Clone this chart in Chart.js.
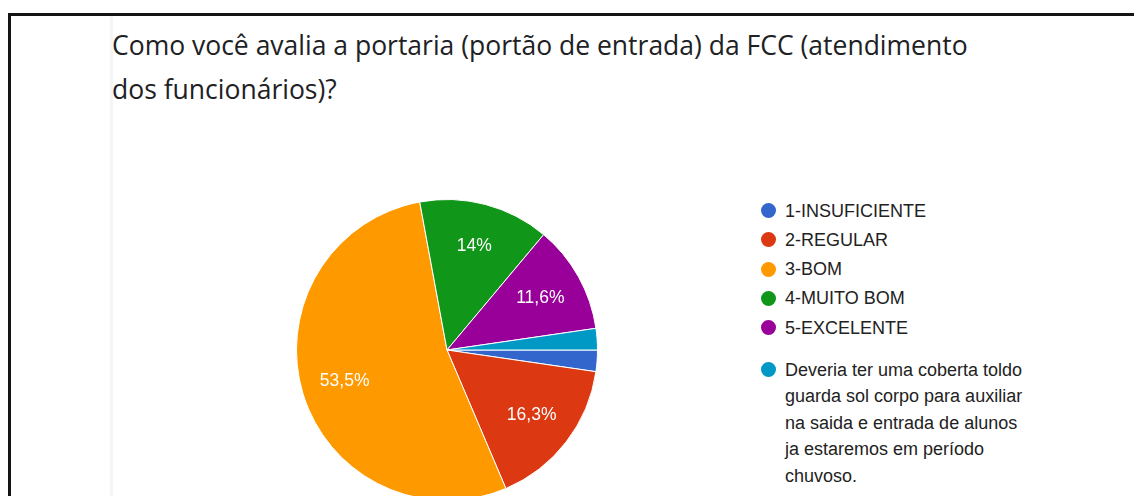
<!DOCTYPE html>
<html lang="pt-BR">
<head>
<meta charset="utf-8">
<title>Portaria FCC</title>
<script src="https://cdn.jsdelivr.net/npm/chart.js@4.4.1/dist/chart.umd.min.js"></script>
<style>
  html, body { margin: 0; padding: 0; width: 1134px; height: 496px; overflow: hidden; background: #fff; }
  #frame { position: absolute; left: 8px; top: 13px; width: 1200px; height: 600px;
           border-left: 3px solid #141414; border-top: 3px solid #141414; }
  #rule { position: absolute; left: 110px; top: 16px; width: 3px; height: 480px; background: #f5f5f5; }
  #title { position: absolute; left: 112px; top: 23px; width: 1000px; margin: 0;
           font-family: "Open Sans", sans-serif; font-weight: 400; font-size: 26.5px;
           line-height: 44px; color: #202124; white-space: nowrap; }
  #pieBox { position: absolute; left: 296px; top: 199px; width: 302px; height: 302px; }
  #legend { position: absolute; left: 760px; top: 0; margin: 0; padding: 0; list-style: none;
            font-family: "Liberation Sans", Arial, sans-serif; font-size: 18px; color: #222; }
  #legend li { position: absolute; left: 0; padding-left: 25px; line-height: 26.5px; white-space: nowrap; }
  #legend .dot { position: absolute; left: 1px; top: 5.5px; width: 15px; height: 15px; border-radius: 50%; }
</style>
</head>
<body>
<div id="frame"></div>
<div id="rule"></div>
<h1 id="title"></h1>
<div id="pieBox"><canvas id="pie" width="302" height="302"></canvas></div>
<ul id="legend"></ul>

<script>
// Question and answer options
const questionLines = [
  'Como você avalia a portaria (portão de entrada) da FCC (atendimento',
  'dos funcionários)?'
];
const categories = [
  '1-INSUFICIENTE',
  '2-REGULAR',
  '3-BOM',
  '4-MUITO BOM',
  '5-EXCELENTE',
  ['Deveria ter uma coberta toldo', 'guarda sol corpo para auxiliar',
   'na saida e entrada de alunos', 'ja estaremos em período', 'chuvoso.']
];
// Share of responses (%) per option
const percentages = [2.3, 16.3, 53.5, 14.0, 11.6, 2.3];
const sliceColors = ['#3366cc', '#dc3912', '#ff9900', '#109618', '#990099', '#0099c6'];
// Slices below this share carry no inside label
const labelThreshold = 5;

// Title
document.getElementById('title').innerHTML =
  questionLines.map(t => t.replace(/&/g, '&amp;').replace(/</g, '&lt;')).join('<br>');

// Legend: single-line entries sit 29.3px apart, a wrapped entry gets extra room above
const legendEl = document.getElementById('legend');
let legendY = 197.5;
categories.forEach((cat, i) => {
  const lines = Array.isArray(cat) ? cat : [cat];
  if (lines.length > 1) legendY += 12.5;
  const li = document.createElement('li');
  li.style.top = legendY + 'px';
  const dot = document.createElement('span');
  dot.className = 'dot';
  dot.style.background = sliceColors[i];
  li.appendChild(dot);
  lines.forEach((line, k) => {
    if (k > 0) li.appendChild(document.createElement('br'));
    li.appendChild(document.createTextNode(line));
  });
  legendEl.appendChild(li);
  legendY += 29.3;
});

const fmtPct = v => {
  const s = (Math.round(v * 10) / 10).toFixed(1).replace(/\.0$/, '');
  return s.replace('.', ',') + '%';
};

// Percent labels placed inside each slice, toward the rim
const sliceLabels = {
  id: 'sliceLabels',
  afterDatasetsDraw(chart) {
    const ctx = chart.ctx;
    const meta = chart.getDatasetMeta(0);
    const values = chart.data.datasets[0].data;
    ctx.save();
    ctx.font = '17.5px "Liberation Sans", Arial, sans-serif';
    ctx.fillStyle = '#fdfdfd';
    ctx.textAlign = 'center';
    ctx.textBaseline = 'middle';
    meta.data.forEach((arc, i) => {
      if (values[i] < labelThreshold) return;
      const p = arc.getProps(['x', 'y', 'startAngle', 'endAngle', 'outerRadius'], true);
      const mid = (p.startAngle + p.endAngle) / 2;
      const r = p.outerRadius * 0.71;
      ctx.fillText(fmtPct(values[i]), p.x + Math.cos(mid) * r, p.y + Math.sin(mid) * r);
    });
    ctx.restore();
  }
};

new Chart(document.getElementById('pie'), {
  type: 'pie',
  data: {
    labels: categories.map(c => Array.isArray(c) ? c.join(' ') : c),
    datasets: [{
      data: percentages,
      backgroundColor: sliceColors,
      borderColor: '#ffffff',
      borderWidth: 1
    }]
  },
  options: {
    responsive: false,
    animation: false,
    rotation: 90,
    layout: { padding: 0 },
    plugins: {
      legend: { display: false },
      tooltip: { enabled: false }
    }
  },
  plugins: [sliceLabels]
});
</script>
</body>
</html>
